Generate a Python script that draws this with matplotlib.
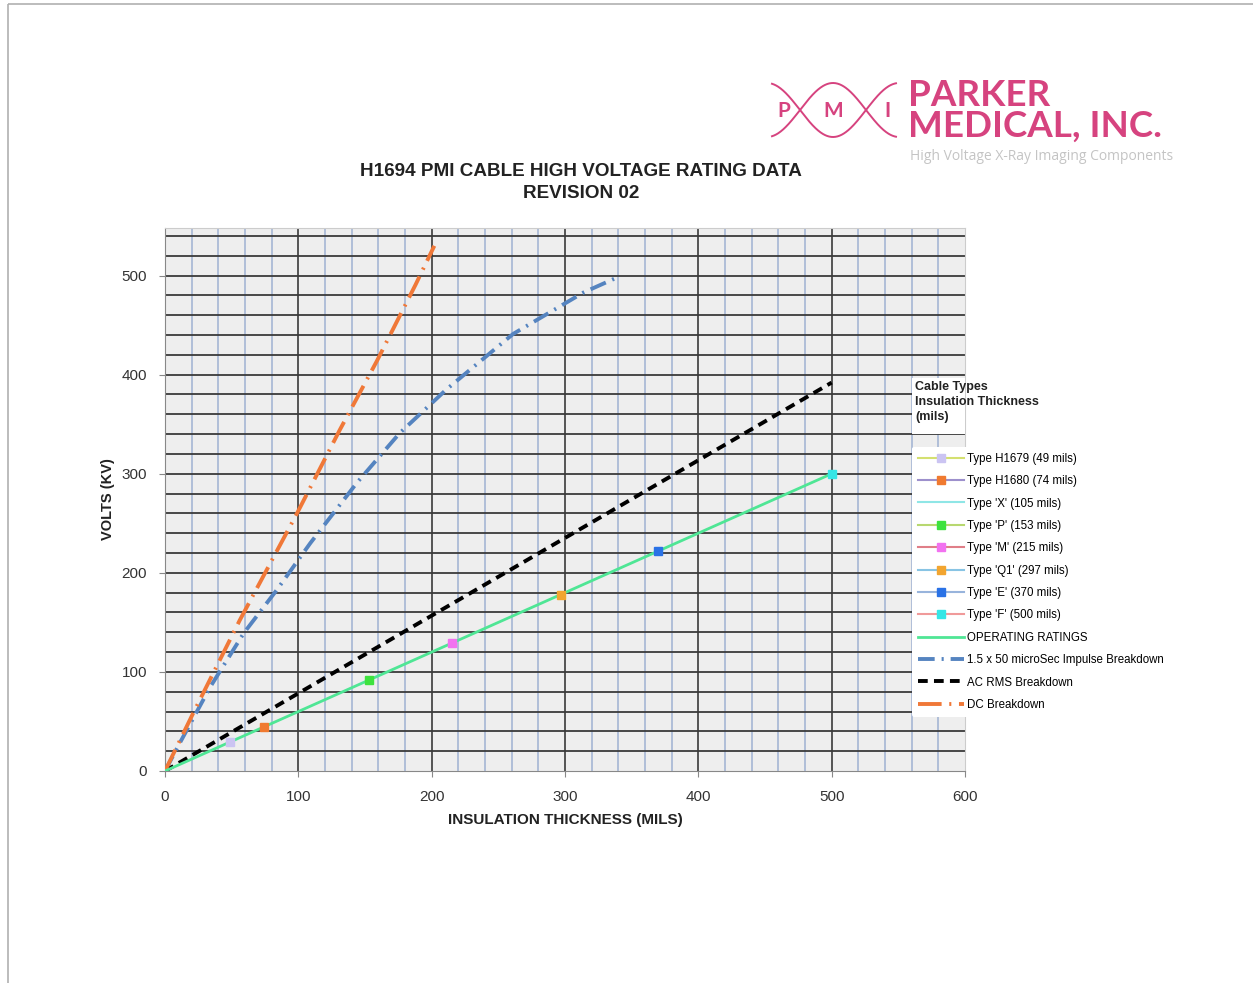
import numpy as np
import matplotlib
matplotlib.use("Agg")
import matplotlib.pyplot as plt
from matplotlib.patches import Rectangle

plt.rcParams['font.family'] = ['Liberation Sans', 'DejaVu Sans']
plt.rcParams['lines.scale_dashes'] = False

# Cable types: insulation thickness (mils) and operating rating (kV)
cable_names = ["Type H1679 (49 mils)", "Type H1680 (74 mils)", "Type 'X' (105 mils)",
               "Type 'P' (153 mils)", "Type 'M' (215 mils)", "Type 'Q1' (297 mils)",
               "Type 'E' (370 mils)", "Type 'F' (500 mils)"]
cable_mils = [49, 74, 105, 153, 215, 297, 370, 500]
cable_kv = [29, 44, 63, 92, 129, 178, 222, 300]
cable_line_colors = ["#d4e070", "#9d90cc", "#8fe6e6", "#b8d870",
                     "#e07e88", "#88c4e4", "#98b4dc", "#f09a9a"]
cable_marker_colors = ["#cbc4f2", "#f07a30", "none", "#3ee23e",
                       "#f272f0", "#f2a530", "#2a72e6", "#36e6e6"]

# Operating ratings line
oper_mils = [0, 500]
oper_kv = [0, 300]

# 1.5 x 50 microSec impulse breakdown
imp_mils = [0, 11, 34, 59, 84, 109, 144, 176, 211, 261, 314, 339]
imp_kv = [0, 28, 85, 139, 183, 230, 291, 341, 385, 441, 483, 498]

# AC RMS breakdown
ac_mils = [0, 500]
ac_kv = [0, 392]

# DC breakdown
dc_mils = [0, 21, 56, 99, 131, 159, 188, 202]
dc_kv = [0, 58, 152, 260, 344, 414, 491, 530]

W, H = 1253, 983
fig = plt.figure(figsize=(W / 100, H / 100), dpi=100)

# overlay axes in pixel coordinates for page border and logo
deco = fig.add_axes([0, 0, 1, 1], zorder=-1)
deco.set_xlim(0, W)
deco.set_ylim(H, 0)
deco.axis('off')
deco.add_patch(Rectangle((8, 4), W, H, fill=False, edgecolor="#b0b0b0", lw=1.2))

pink = "#d6437f"
t = np.linspace(772, 896, 300)
amp = 27 * np.sin(np.pi * (t - 800) / 66)
deco.plot(t, 110 + amp, color=pink, lw=1.4)
deco.plot(t, 110 - amp, color=pink, lw=1.4)
for lx, letter in [(784, "P"), (833, "M"), (887, "I")]:
    deco.text(lx, 111, letter, color=pink, fontsize=15, fontweight='bold',
              ha='center', va='center', family=['Lato', 'DejaVu Sans'])
deco.text(908, 95, "PARKER", color=pink, fontsize=26.5, fontweight='bold',
          ha='left', va='center', family=['Lato', 'DejaVu Sans'])
deco.text(908, 126, "MEDICAL, INC.", color=pink, fontsize=26.5, fontweight='bold',
          ha='left', va='center', family=['Lato', 'DejaVu Sans'])
deco.text(910, 156, "High Voltage X-Ray Imaging Components", color="#c4c4c4",
          fontsize=10, ha='left', va='center', family=['Open Sans', 'DejaVu Sans'])

deco.text(581, 171, "H1694 PMI CABLE HIGH VOLTAGE RATING DATA", fontsize=13.6,
          fontweight='bold', ha='center', va='center', color="#222222")
deco.text(581, 193, "REVISION 02", fontsize=13.6, fontweight='bold',
          ha='center', va='center', color="#222222")

# main chart
ax = fig.add_axes([165 / W, 1 - 771 / H, 800 / W, 543 / H])
ax.set_facecolor("#eeeeee")
ax.set_xlim(0, 600)
ax.set_ylim(0, 548)

for xv in range(20, 600, 20):
    if xv % 100 == 0:
        ax.axvline(xv, color="#2a2a2a", lw=1.1, zorder=1)
    else:
        ax.axvline(xv, color="#9fb1d2", lw=1.1, zorder=1)
for yv in range(20, 548, 20):
    ax.axhline(yv, color="#3a3a3a", lw=1.3, zorder=1)

for name, m, v, lc, mc in zip(cable_names, cable_mils, cable_kv,
                              cable_line_colors, cable_marker_colors):
    ax.plot([m], [v], color=lc, lw=1.5, marker='s', markersize=6,
            markerfacecolor=mc, markeredgecolor=mc, label=name, zorder=5)

ax.plot(oper_mils, oper_kv, color="#4fe695", lw=2, label="OPERATING RATINGS", zorder=4)
ax.plot(imp_mils, imp_kv, color="#5584c0", lw=2.8, dashes=(12, 5, 1.5, 5),
        label="1.5 x 50 microSec Impulse Breakdown", zorder=3)
ax.plot(ac_mils, ac_kv, color="black", lw=2.8, dashes=(7, 4.5),
        label="AC RMS Breakdown", zorder=3)
ax.plot(dc_mils, dc_kv, color="#f07838", lw=2.8, dashes=(17, 5.5, 1.5, 5.5),
        label="DC Breakdown", zorder=3)

ax.set_xticks(range(0, 601, 100))
ax.set_yticks(range(0, 501, 100))
ax.tick_params(labelsize=11, colors="#333333", length=4, color="#888888")
ax.tick_params(axis='x', pad=10)
ax.tick_params(axis='y', pad=9)
for s in ["top", "right"]:
    ax.spines[s].set_color("#cccccc")
for s in ["left", "bottom"]:
    ax.spines[s].set_color("#888888")

ax.set_xlabel("INSULATION THICKNESS (MILS)", fontsize=11, fontweight='bold',
              color="#222222", labelpad=6)
ax.set_ylabel("VOLTS (KV)", fontsize=10.5, fontweight='bold', color="#222222",
              labelpad=5)

fig.text(915 / W, 1 - 402 / H, "Cable Types\nInsulation Thickness\n(mils)", fontsize=9,
         fontweight='bold', ha='left', va='center', color="#222222",
         linespacing=1.3, zorder=20)
ax.add_patch(Rectangle((560, 340), 40, 57, facecolor="white", edgecolor="none",
                       zorder=6, clip_on=True))

leg = ax.legend(loc='upper left', bbox_to_anchor=(912 / W, 1 - 447 / H),
                bbox_transform=fig.transFigure, frameon=True, fontsize=8.3,
                handlelength=4.0, handletextpad=0.3, labelspacing=0.9,
                borderaxespad=0, borderpad=0.5)
leg.get_frame().set_facecolor("white")
leg.get_frame().set_edgecolor("none")
leg.get_frame().set_alpha(1)
leg.set_zorder(10)

fig.savefig("out.png", dpi=100)
